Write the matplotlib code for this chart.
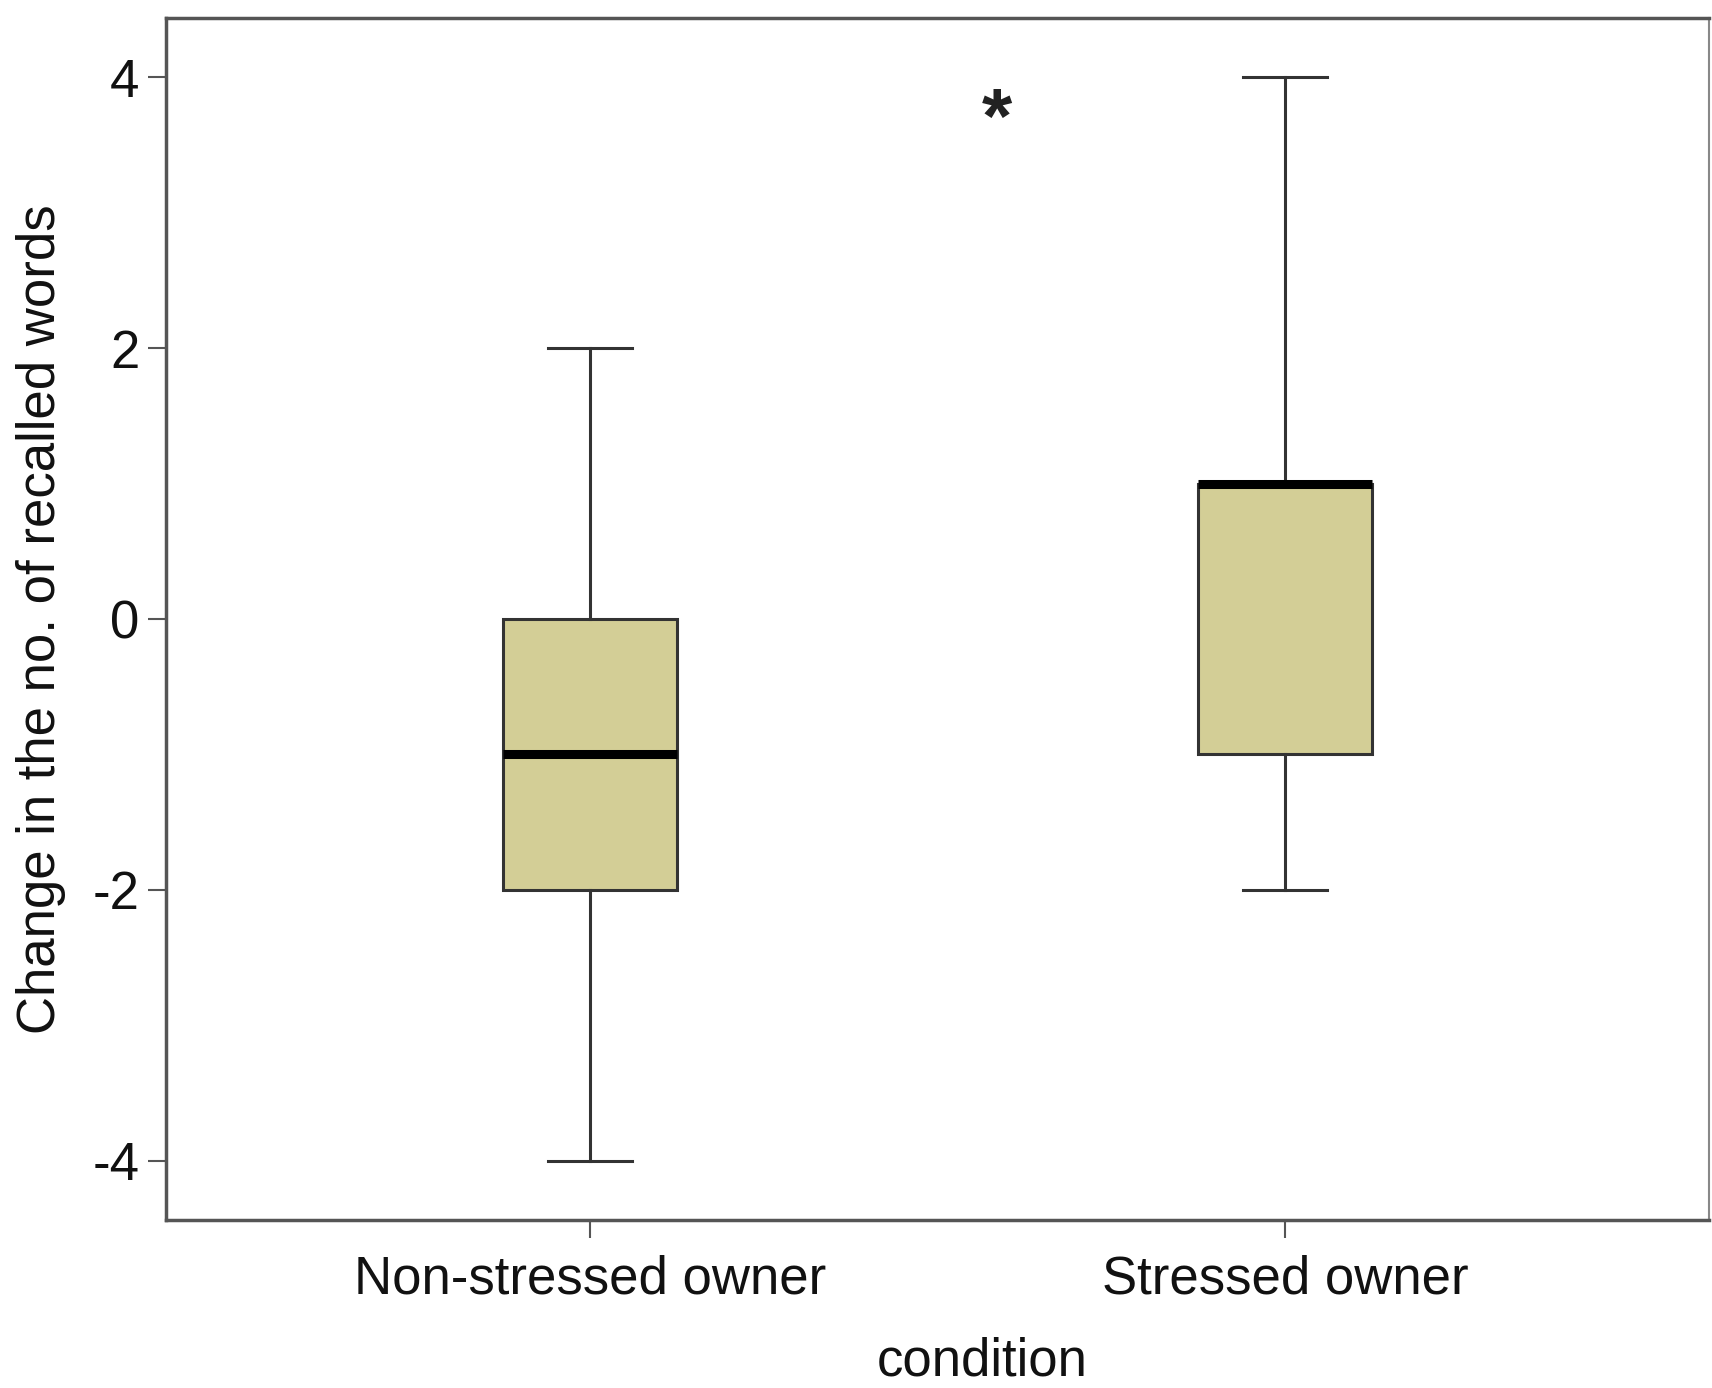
import matplotlib
matplotlib.use("Agg")
import matplotlib.pyplot as plt

plt.rcParams['font.family'] = ['Liberation Sans', 'DejaVu Sans']

categories = ["Non-stressed owner", "Stressed owner"]
whisker_low = [-4, -2]
q1 = [-2, -1]
median = [-1, 1]
q3 = [0, 1]
whisker_high = [2, 4]
star_x = 1.585
star_y = 3.79
yticks = [-4, -2, 0, 2, 4]

fill_color = "#D3CE96"
line_color = "#333333"
spine_color = "#555555"

fig = plt.figure(figsize=(17.12, 13.88), dpi=100)
ax = fig.add_axes([166/1712, 1 - 1220/1388, 1543/1712, (1220-18)/1388])

stats = []
for i, name in enumerate(categories):
    stats.append(dict(label=name, whislo=whisker_low[i], q1=q1[i], med=median[i],
                      q3=q3[i], whishi=whisker_high[i], fliers=[]))

positions = list(range(1, len(categories) + 1))
ax.bxp(stats, positions=positions, widths=0.25, patch_artist=True, showfliers=False,
       boxprops=dict(facecolor=fill_color, edgecolor=line_color, linewidth=2.2),
       medianprops=dict(color="black", linewidth=6.5, solid_capstyle="butt"),
       whiskerprops=dict(color=line_color, linewidth=2.2),
       capprops=dict(color=line_color, linewidth=2.2),
       capwidths=0.12)

ax.annotate("*", xy=(star_x, star_y), xytext=(0, -12), textcoords="offset points",
            ha="center", va="center", fontsize=56, fontweight="bold", color="#222222")

ax.set_xlim(0.39, 2.61)
ax.set_ylim(-4.437, 4.437)
ax.set_yticks(yticks)
ax.set_yticklabels([str(v) for v in yticks])
ax.set_xticks(positions)
ax.set_xticklabels(categories)

for s in ["left", "bottom", "top"]:
    ax.spines[s].set_color(spine_color)
    ax.spines[s].set_linewidth(2.5)
ax.spines["right"].set_color("#888888")
ax.spines["right"].set_linewidth(1.5)

ax.tick_params(axis="both", direction="out", length=13, width=1.5, color=spine_color,
               labelsize=38, labelcolor="#111111")
ax.tick_params(axis="x", pad=12)
ax.tick_params(axis="y", pad=6)

ax.set_ylabel("Change in the no. of recalled words", fontsize=38, color="#111111", labelpad=19)
ax.set_xlabel("condition", fontsize=38, color="#111111", va="baseline")
ax.xaxis.set_label_coords(0.529, -(1376 - 1220) / 1202)

fig.savefig("out.png", dpi=100, facecolor="white")
